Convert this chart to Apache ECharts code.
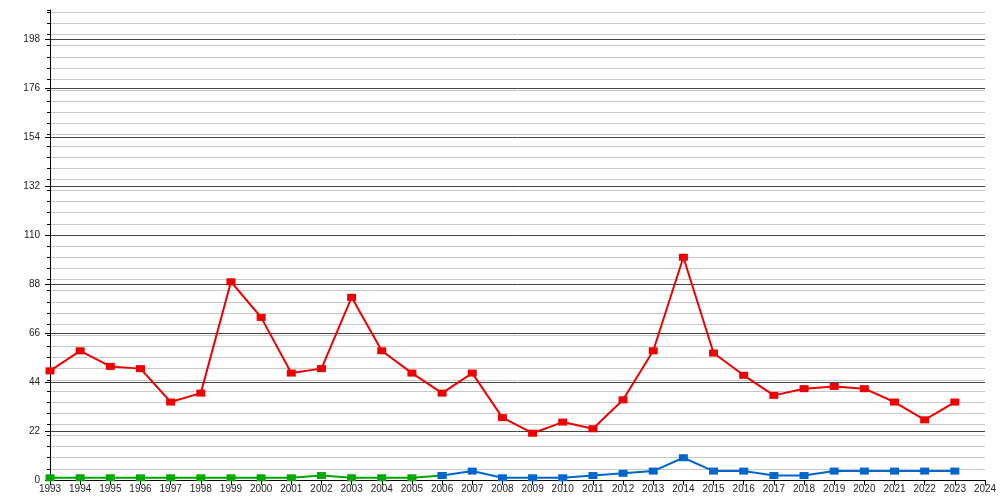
<!DOCTYPE html>
<html>
<head>
<meta charset="utf-8">
<title>Chart</title>
<script src="https://cdn.jsdelivr.net/npm/echarts@6/dist/echarts.min.js"></script>
<style>
    html, body { margin: 0; padding: 0; background: #fff; }
    #chart { width: 1000px; height: 500px; }
</style>
</head>
<body>
<div id="chart"></div>
<script>
// years on the x axis
var years = [1993, 1994, 1995, 1996, 1997, 1998, 1999, 2000, 2001, 2002, 2003, 2004, 2005, 2006, 2007,
    2008, 2009, 2010, 2011, 2012, 2013, 2014, 2015, 2016, 2017, 2018, 2019, 2020, 2021, 2022, 2023];

// red series 1993-2023
var redValues = [49, 58, 51, 50, 35, 39, 89, 73, 48, 50, 82, 58, 48, 39, 48,
    28, 21, 26, 23, 36, 58, 100, 57, 47, 38, 41, 42, 41, 35, 27, 35];

// green series 1993-2006
var greenYears = [1993, 1994, 1995, 1996, 1997, 1998, 1999, 2000, 2001, 2002, 2003, 2004, 2005, 2006];
var greenValues = [1, 1, 1, 1, 1, 1, 1, 1, 1, 2, 1, 1, 1, 2];

// blue series 2006-2023
var blueYears = [2006, 2007, 2008, 2009, 2010, 2011, 2012, 2013, 2014, 2015, 2016, 2017, 2018, 2019, 2020, 2021, 2022, 2023];
var blueValues = [2, 4, 1, 1, 1, 2, 3, 4, 10, 4, 4, 2, 2, 4, 4, 4, 4, 4];

var yMax = 211;
var majorStep = 22;
var minorStep = 5;

function pairs(xs, ys) {
    var out = [];
    for (var i = 0; i < xs.length; i++) {
        out.push([xs[i], ys[i]]);
    }
    return out;
}

function lineSeries(data, color) {
    return {
        type: 'line',
        yAxisIndex: 1,
        data: data,
        symbol: 'rect',
        symbolSize: [9, 7],
        showAllSymbol: true,
        lineStyle: { color: color, width: 2 },
        itemStyle: { color: color },
        emphasis: { disabled: true }
    };
}

var chart = echarts.init(document.getElementById('chart'));
var fontFamily = '"Liberation Sans", Arial, sans-serif';

var option = {
    animation: false,
    backgroundColor: '#ffffff',
    grid: { left: 50, right: 15, top: 10, bottom: 20, containLabel: false },
    xAxis: {
        type: 'value',
        min: 1993,
        max: 2024,
        interval: 1,
        axisLine: { show: true, lineStyle: { color: '#000', width: 1 } },
        axisTick: { show: true, length: 5, lineStyle: { color: '#000' } },
        axisLabel: {
            margin: 4,
            fontSize: 10,
            fontFamily: fontFamily,
            color: '#222',
            formatter: function (v) { return String(v); }
        },
        splitLine: { show: false }
    },
    yAxis: [
        // minor grid, every 5
        {
            type: 'value',
            position: 'left',
            min: 0,
            max: yMax,
            interval: minorStep,
            axisLine: { show: false },
            axisTick: { show: true, length: 3, lineStyle: { color: '#000' } },
            axisLabel: { show: false },
            splitLine: { show: true, showMaxLine: false, lineStyle: { color: '#c8c8c8', width: 1 } }
        },
        // major grid with labels, every 22
        {
            type: 'value',
            position: 'left',
            min: 0,
            max: yMax,
            interval: majorStep,
            axisLine: { show: true, lineStyle: { color: '#000', width: 1 } },
            axisTick: { show: true, length: 5, lineStyle: { color: '#000' } },
            axisLabel: {
                showMaxLabel: false,
                margin: 10,
                fontSize: 10,
                fontFamily: fontFamily,
                color: '#222'
            },
            splitLine: { show: true, showMaxLine: false, lineStyle: { color: '#444', width: 1 } }
        }
    ],
    series: [
        lineSeries(pairs(greenYears, greenValues), '#00a800'),
        lineSeries(pairs(blueYears, blueValues), '#0066cc'),
        lineSeries(pairs(years, redValues), '#ee0000')
    ]
};

chart.setOption(option);
</script>
</body>
</html>
